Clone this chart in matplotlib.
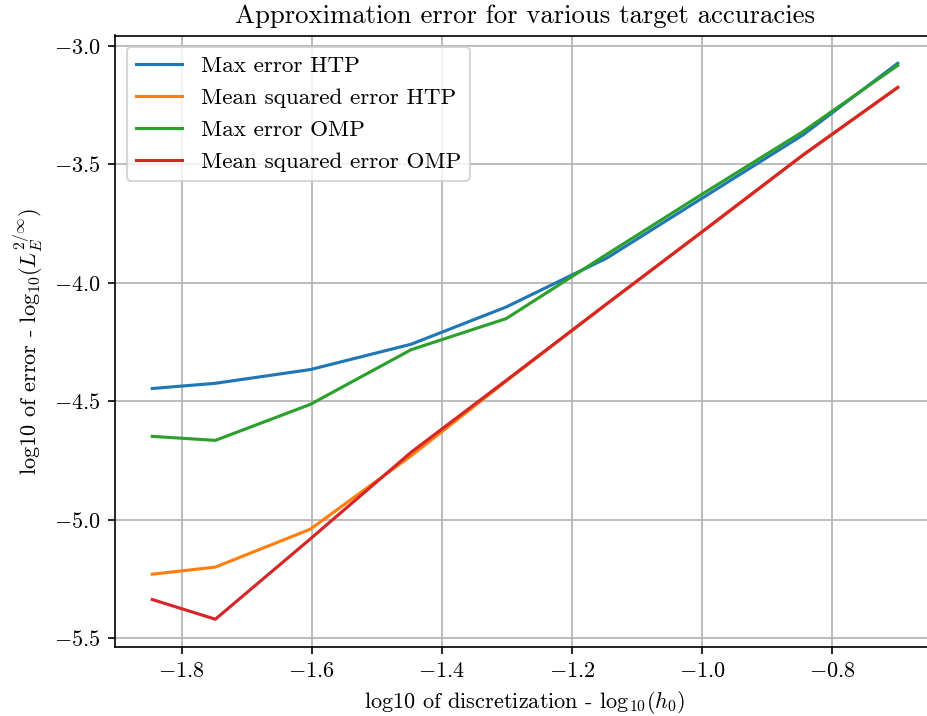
import numpy as np
import matplotlib
matplotlib.use('Agg')
import matplotlib.pyplot as plt

plt.rcParams['font.family'] = ['cmr10', 'DejaVu Serif']
plt.rcParams['mathtext.fontset'] = 'cm'
plt.rcParams['axes.formatter.use_mathtext'] = True
plt.rcParams['font.size'] = 10.7
plt.rcParams['axes.titlesize'] = 12.8

# log10 of discretization step
log_h = [-1.845, -1.748, -1.602, -1.447, -1.301, -1.146, -1.0, -0.845, -0.699]

max_htp = [-4.446, -4.424, -4.366, -4.259, -4.102, -3.895, -3.643, -3.376, -3.073]
mse_htp = [-5.230, -5.200, -5.040, -4.730, -4.415, -4.088, -3.785, -3.461, -3.175]
max_omp = [-4.648, -4.665, -4.513, -4.282, -4.151, -3.879, -3.626, -3.362, -3.082]
mse_omp = [-5.337, -5.420, -5.081, -4.715, -4.412, -4.088, -3.785, -3.461, -3.175]

fig = plt.figure(figsize=(927/150, 716/150), dpi=150)
ax = fig.add_axes([115/927, 1-647/716, 820/927, 611.5/716])

ax.plot(log_h, max_htp, label='Max error HTP')
ax.plot(log_h, mse_htp, label='Mean squared error HTP')
ax.plot(log_h, max_omp, label='Max error OMP')
ax.plot(log_h, mse_omp, label='Mean squared error OMP')

ax.set_title('Approximation error for various target accuracies')
ax.set_xlabel(r'log10 of discretization - $\mathrm{log}_{10}(h_0)$')
ax.set_ylabel(r'log10 of error - $\mathrm{log}_{10}(L_E^{2/\infty})$')
ax.grid(True)
ax.legend(loc='upper left', fontsize=11.1)

fig.savefig('out.png', dpi=150)
